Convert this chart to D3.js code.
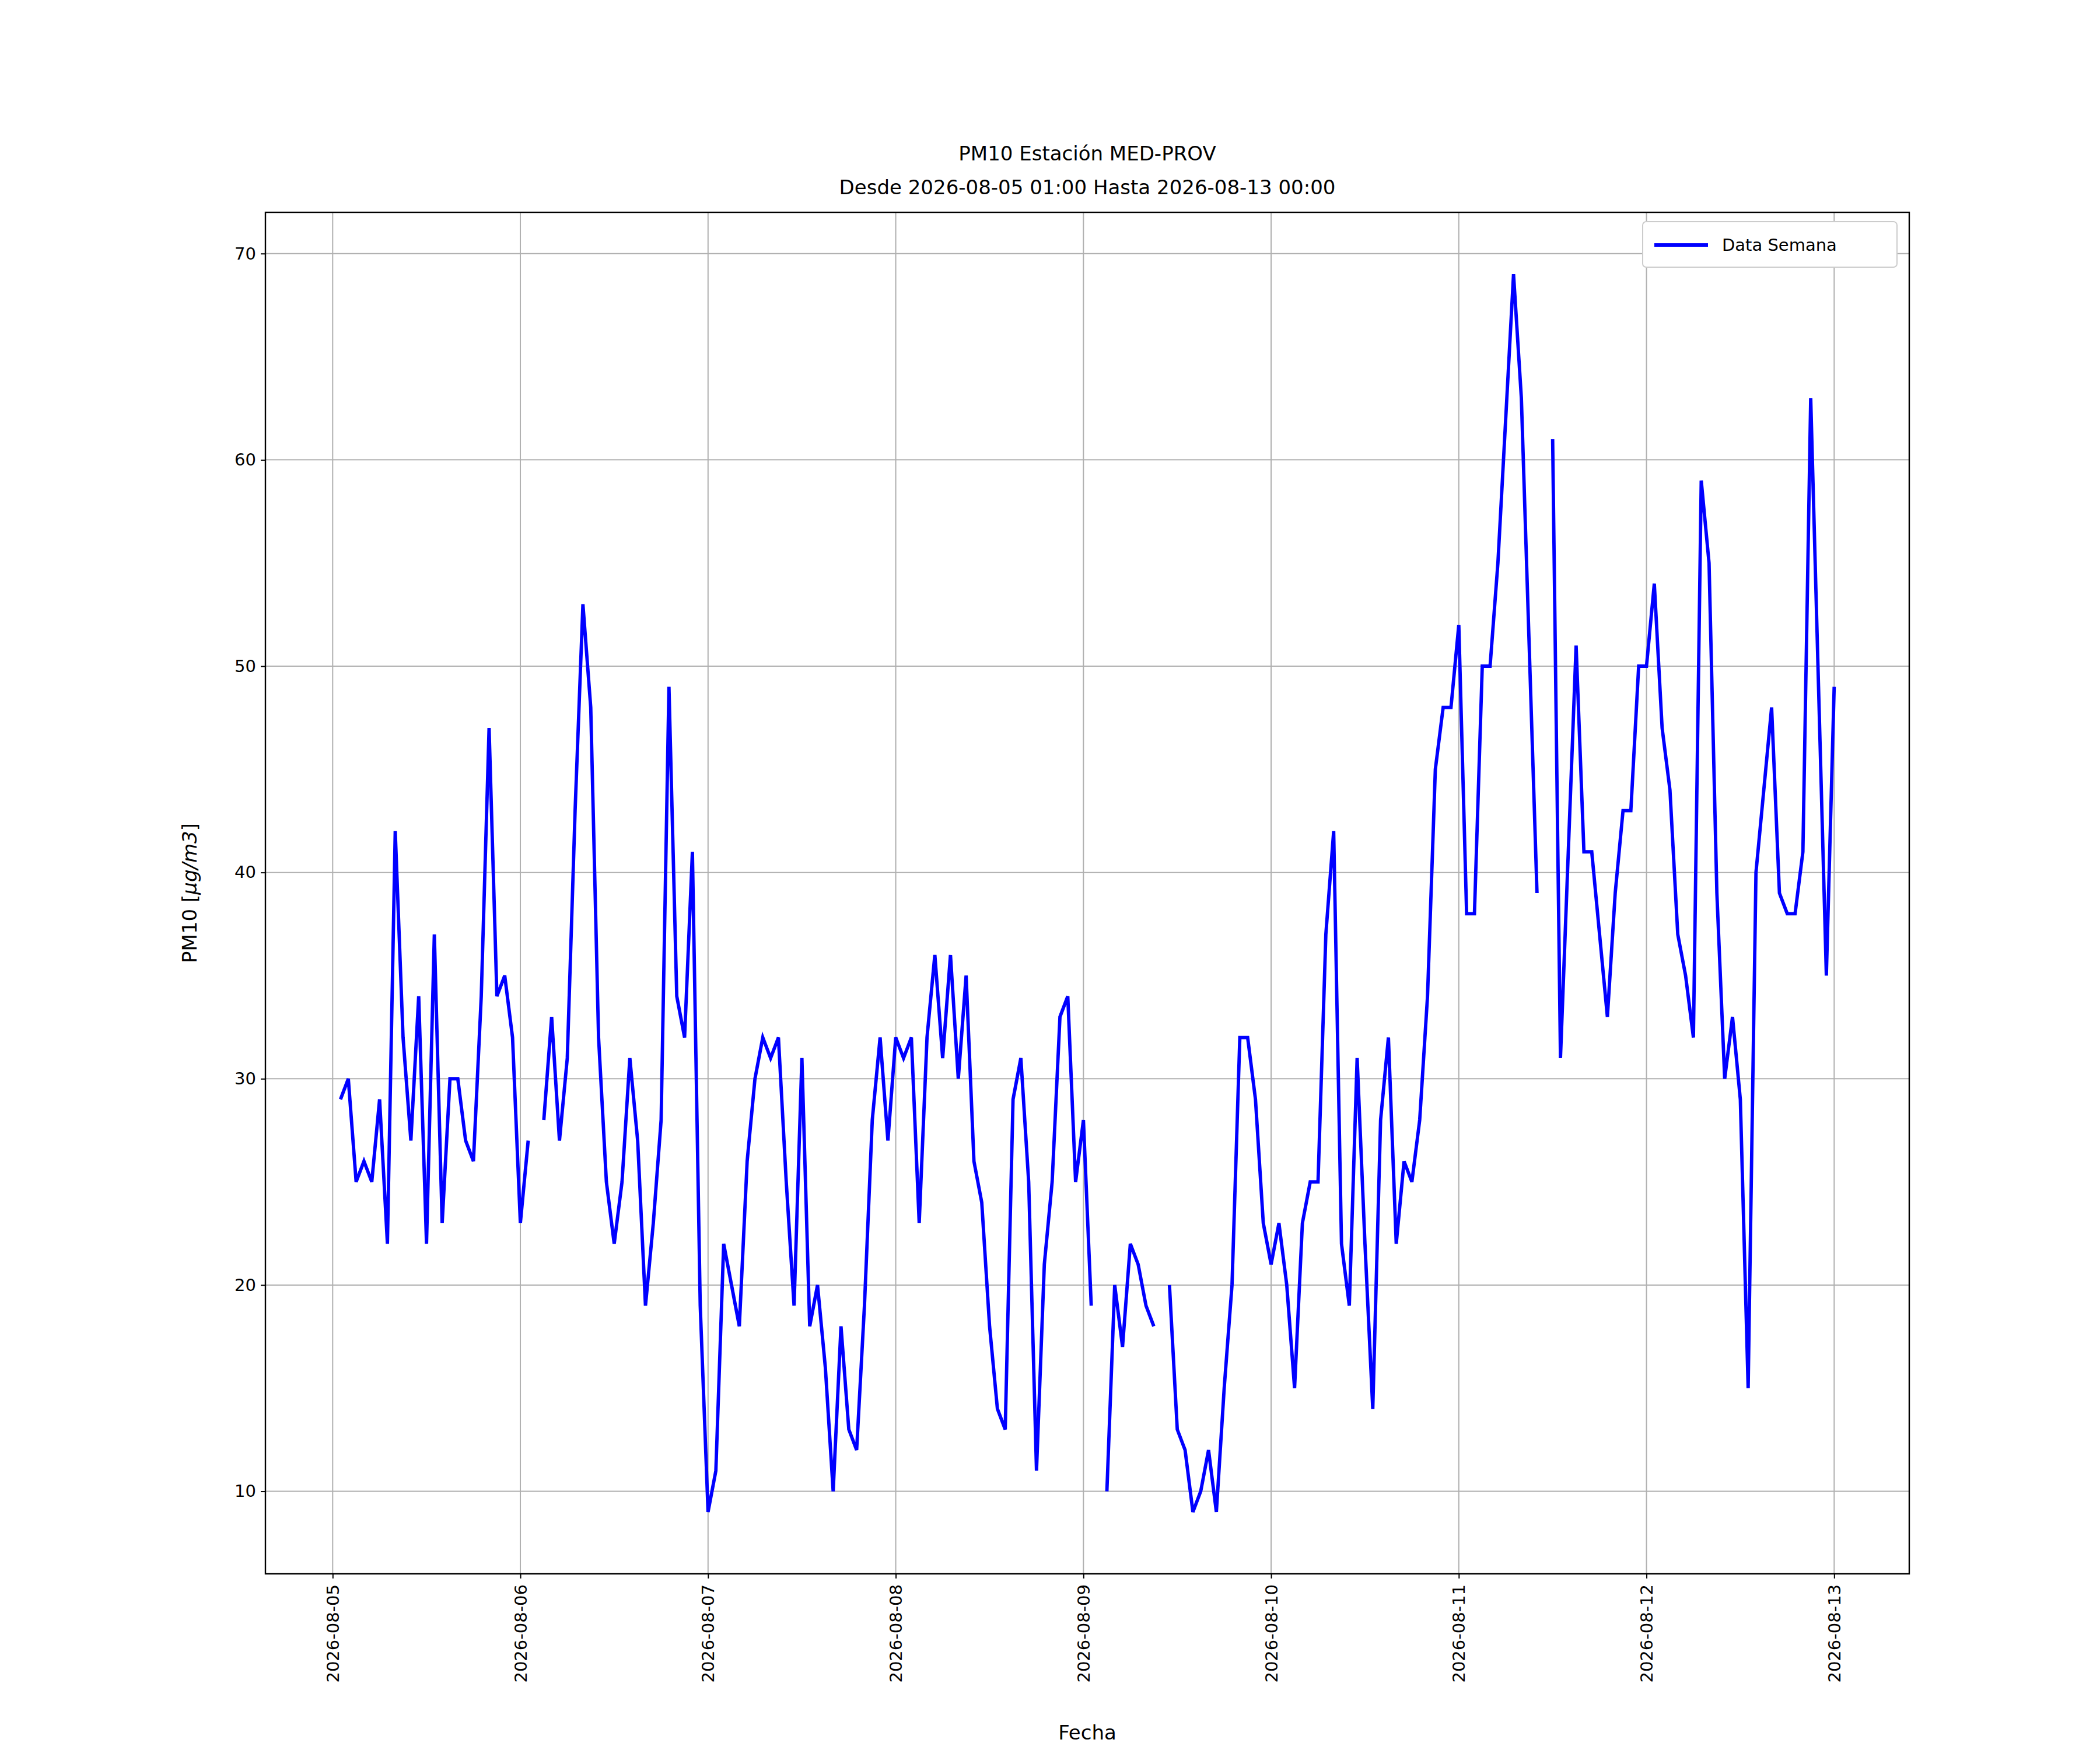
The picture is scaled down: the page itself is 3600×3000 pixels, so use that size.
<!DOCTYPE html>
<html>
<head>
<meta charset="utf-8">
<script src="https://cdn.jsdelivr.net/npm/d3@7"></script>
<style>
  body { margin: 0; background: #fff; }
  text { font-family: "DejaVu Sans", sans-serif; }
</style>
</head>
<body>
<div id="app"></div>
<script>
// hourly PM10 values starting 2026-08-05 01:00 (null = missing)
const startTime = new Date(2026, 7, 5, 1)
const pm10 = [
  29,30,25,26,25,29,22,42,32,27,34,22,37,23,30,30,27,26,34,47,34,35,32,23,
  27,null,28,33,27,31,43,53,48,32,25,22,25,31,27,19,23,28,49,34,32,41,19,9,
  11,22,20,18,26,30,32,31,32,25,19,31,18,20,16,10,18,13,12,19,28,32,27,32,
  31,32,23,32,36,31,36,30,35,26,24,18,14,13,29,31,25,11,21,25,33,34,25,28,
  19,null,10,20,17,22,21,19,18,null,20,13,12,9,10,12,9,15,20,32,32,29,23,21,
  23,20,15,23,25,25,37,42,22,19,31,22,14,28,32,22,26,25,28,34,45,48,48,52,
  38,38,50,50,55,62,69,63,51,39,null,61,31,41,51,41,41,37,33,39,43,43,50,50,
  54,47,44,37,35,32,59,55,39,30,33,29,15,40,44,48,39,38,38,41,63,49,35,49
]
const tickDates = ['2026-08-05','2026-08-06','2026-08-07','2026-08-08','2026-08-09',
  '2026-08-10','2026-08-11','2026-08-12','2026-08-13']
const yTicks = [10, 20, 30, 40, 50, 60, 70]

const data = pm10.map((v, i) => ({ t: new Date(startTime.getTime() + i * 3600e3), v }))

const W = 3600, H = 3000
const mLeft = 455, mRight = 3273, mTop = 364, mBottom = 2698

const svg = d3.select('#app').append('svg')
  .attr('width', W).attr('height', H)

const x = d3.scaleTime()
  .domain([new Date(2026, 7, 4, 15, 24), new Date(2026, 7, 13, 9, 36)])
  .range([mLeft, mRight])
const y = d3.scaleLinear().domain([6, 72]).range([mBottom, mTop])

const parse = d3.timeParse('%Y-%m-%d')

// grid
svg.append('g').selectAll('line').data(tickDates).enter().append('line')
  .attr('x1', d => x(parse(d))).attr('x2', d => x(parse(d)))
  .attr('y1', mTop).attr('y2', mBottom)
  .attr('stroke', '#b0b0b0').attr('stroke-width', 2)
svg.append('g').selectAll('line').data(yTicks).enter().append('line')
  .attr('x1', mLeft).attr('x2', mRight)
  .attr('y1', d => y(d)).attr('y2', d => y(d))
  .attr('stroke', '#b0b0b0').attr('stroke-width', 2)

// line
const line = d3.line()
  .defined(d => d.v !== null)
  .x(d => x(d.t)).y(d => y(d.v))
svg.append('path').datum(data)
  .attr('d', line)
  .attr('fill', 'none').attr('stroke', '#0000ff')
  .attr('stroke-width', 5.8).attr('stroke-linejoin', 'miter')

// axes
const axisX = d3.axisBottom(x).tickValues(tickDates.map(parse))
  .tickFormat(d3.timeFormat('%Y-%m-%d')).tickSizeOuter(0).tickSize(8)
const gx = svg.append('g').attr('transform', `translate(0,${mBottom})`).call(axisX)
gx.select('.domain').remove()
gx.selectAll('line').attr('stroke-width', 2)
gx.selectAll('text')
  .attr('font-size', 29).attr('font-family', 'DejaVu Sans')
  .attr('transform', 'rotate(-90)')
  .attr('text-anchor', 'end')
  .attr('x', -18).attr('y', 0).attr('dy', '0.35em')

const axisY = d3.axisLeft(y).tickValues(yTicks).tickSizeOuter(0).tickSize(8)
const gy = svg.append('g').attr('transform', `translate(${mLeft},0)`).call(axisY)
gy.select('.domain').remove()
gy.selectAll('line').attr('stroke-width', 2)
gy.selectAll('text').attr('font-size', 29).attr('font-family', 'DejaVu Sans').attr('x', -16)

svg.append('rect')
  .attr('x', mLeft).attr('y', mTop).attr('width', mRight - mLeft).attr('height', mBottom - mTop)
  .attr('fill', 'none').attr('stroke', '#000').attr('stroke-width', 2.4)

// titles
svg.append('text').attr('x', (mLeft + mRight) / 2).attr('y', 275)
  .attr('text-anchor', 'middle').attr('font-size', 34).text('PM10 Estación MED-PROV')
svg.append('text').attr('x', (mLeft + mRight) / 2).attr('y', 333)
  .attr('text-anchor', 'middle').attr('font-size', 34).text('Desde 2026-08-05 01:00 Hasta 2026-08-13 00:00')
svg.append('text').attr('x', (mLeft + mRight) / 2).attr('y', 2982)
  .attr('text-anchor', 'middle').attr('font-size', 34).text('Fecha')

const yl = svg.append('text')
  .attr('transform', `translate(337,${(mTop + mBottom) / 2}) rotate(-90)`)
  .attr('text-anchor', 'middle').attr('font-size', 34)
yl.append('tspan').text('PM10 [')
yl.append('tspan').attr('font-style', 'italic').text('μg/m3')
yl.append('tspan').text(']')

// legend
const lg = svg.append('g').attr('transform', 'translate(2816,380)')
lg.append('rect').attr('width', 436).attr('height', 78).attr('rx', 6)
  .attr('fill', '#fff').attr('stroke', '#ccc').attr('stroke-width', 2)
lg.append('line').attr('x1', 20).attr('x2', 112).attr('y1', 40).attr('y2', 40)
  .attr('stroke', '#0000ff').attr('stroke-width', 5.8)
lg.append('text').attr('x', 136).attr('y', 40).attr('dy', '0.35em')
  .attr('font-size', 29).text('Data Semana')
</script>
</body>
</html>
